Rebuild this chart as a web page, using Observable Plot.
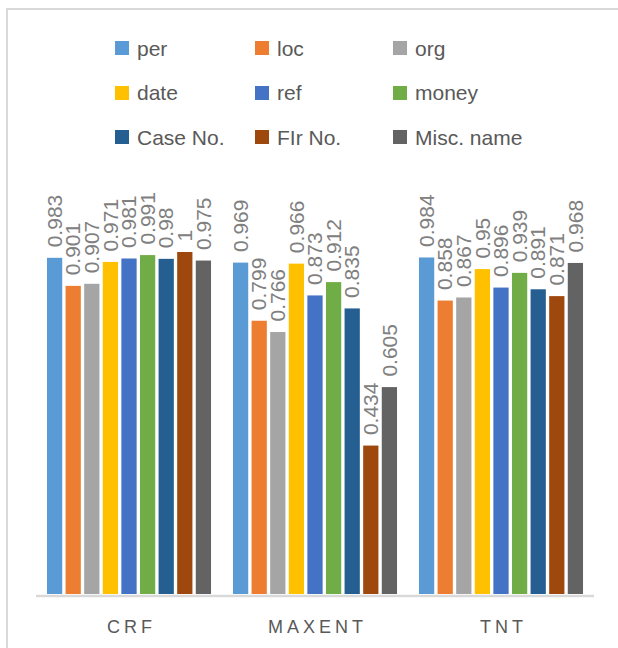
<!DOCTYPE html>
<html>
<head>
<meta charset="utf-8">
<script src="https://cdn.jsdelivr.net/npm/d3@7"></script>
<script src="https://cdn.jsdelivr.net/npm/@observablehq/plot@0.6"></script>
<style>
  html, body { margin: 0; padding: 0; background: #fff; overflow: hidden; }
  #wrap { position: relative; width: 618px; height: 648px; overflow: hidden; font-family: "Liberation Sans", Arial, sans-serif; }
  .edge { position: absolute; background: #d9d9d9; z-index: 2; pointer-events: none; }
  #edgeL { left: 6px; top: 8px; width: 2px; height: 640px; }
  #edgeT { left: 6px; top: 8px; width: 612px; height: 2px; }
  #legend { position: relative; height: 170px; }
  #legend .grid { position: absolute; left: 115px; top: 26px; display: grid; grid-template-columns: 140px 138px 160px; grid-auto-rows: 44.5px; }
  #legend .item { display: flex; align-items: center; color: #595959; font-size: 21px; line-height: 21px; white-space: nowrap; }
  #legend .sw { width: 14px; height: 14px; margin-right: 8px; flex: none; }
  #chart svg { display: block; }
</style>
</head>
<body>
<div id="wrap">
  <div class="edge" id="edgeL"></div>
  <div class="edge" id="edgeT"></div>
  <div id="legend"><div class="grid"></div></div>
  <div id="chart"></div>
</div>
<script>
const groups = ["CRF", "MAXENT", "TNT"];
const series = ["per", "loc", "org", "date", "ref", "money", "Case No.", "FIr No.", "Misc. name"];
const colors = ["#5B9BD5", "#ED7D31", "#A5A5A5", "#FFC000", "#4472C4", "#70AD47", "#255E91", "#9E480E", "#636363"];
const crf    = [0.983, 0.901, 0.907, 0.971, 0.981, 0.991, 0.98, 1, 0.975];
const maxent = [0.969, 0.799, 0.766, 0.966, 0.873, 0.912, 0.835, 0.434, 0.605];
const tnt    = [0.984, 0.858, 0.867, 0.95, 0.896, 0.939, 0.891, 0.871, 0.968];

const values = {CRF: crf, MAXENT: maxent, TNT: tnt};
const key = (g, s) => g + "|" + s;
const data = groups.flatMap(g => series.map((s, i) => ({group: g, series: s, value: values[g][i], k: key(g, s)})));

// x domain: the bars of each group, with one empty slot between groups
const xDomain = [];
groups.forEach((g, gi) => {
  if (gi > 0) xDomain.push("gap" + gi);
  series.forEach(s => xDomain.push(key(g, s)));
});

// legend
const grid = document.querySelector("#legend .grid");
series.forEach((s, i) => {
  const item = document.createElement("div");
  item.className = "item";
  const sw = document.createElement("span");
  sw.className = "sw";
  sw.style.background = colors[i];
  const t = document.createElement("span");
  t.textContent = s;
  item.appendChild(sw);
  item.appendChild(t);
  grid.appendChild(item);
});

const chart = Plot.plot({
  width: 618,
  height: 478,
  marginLeft: 36,
  marginRight: 24,
  marginTop: 0,
  marginBottom: 54,
  style: {background: "transparent", fontFamily: "Liberation Sans, Arial, sans-serif"},
  x: {domain: xDomain, paddingInner: 0.18, paddingOuter: 0.59, round: false, axis: null},
  y: {domain: [0, 1], range: [424, 82], axis: null},
  color: {domain: series, range: colors},
  marks: [
    Plot.barY(data, {x: "k", y: "value", fill: "series"}),
    Plot.ruleY([0], {stroke: "#d9d9d9", strokeWidth: 2.5, dy: 1.5}),
    Plot.text(data, {
      x: "k", y: "value", text: d => String(d.value),
      rotate: -90, textAnchor: "start", dy: -11,
      fontSize: 21, fill: "#808080"
    }),
    Plot.text(groups, {
      x: g => key(g, "ref"), y: () => 0, text: g => g,
      dy: 33, dx: 2, fontSize: 18, fill: "#595959"
    })
  ]
});
document.getElementById("chart").appendChild(chart);

chart.querySelectorAll("text").forEach(t => {
  if (groups.includes(t.textContent)) t.style.letterSpacing = "4px";
});
</script>
</body>
</html>
